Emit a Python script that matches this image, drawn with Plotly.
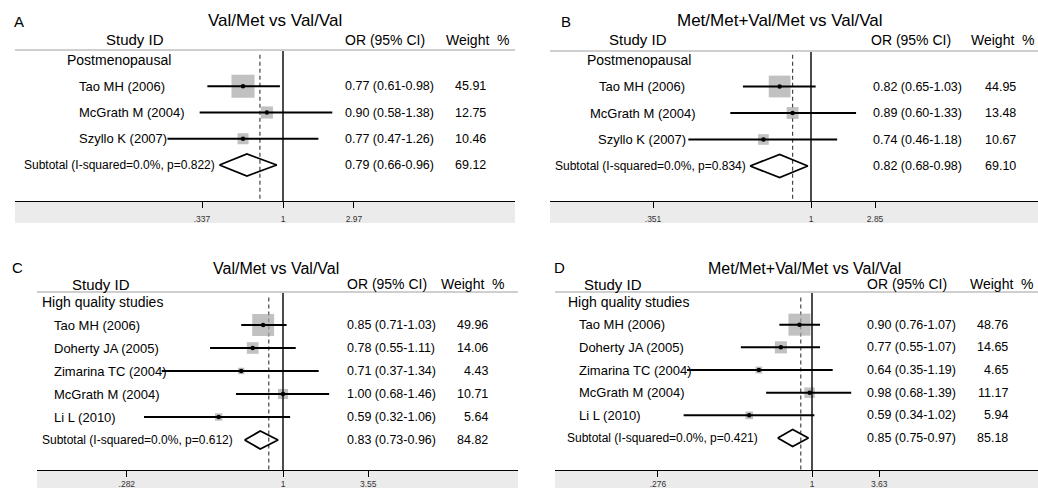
import math
import plotly.graph_objects as go

# ---------------- data ----------------
panel_letters = ["A", "B", "C", "D"]
panel_titles = ["Val/Met vs Val/Val", "Met/Met+Val/Met vs Val/Val",
                "Val/Met vs Val/Val", "Met/Met+Val/Met vs Val/Val"]
group_labels = ["Postmenopausal", "Postmenopausal",
                "High quality studies", "High quality studies"]

studies_post = ["Tao MH (2006)", "McGrath M (2004)", "Szyllo K (2007)"]
studies_hq = ["Tao MH (2006)", "Doherty JA (2005)", "Zimarina TC (2004)",
              "McGrath M (2004)", "Li L (2010)"]

or_A = [0.77, 0.90, 0.77]
lo_A = [0.61, 0.58, 0.47]
hi_A = [0.98, 1.38, 1.26]
wt_A = [45.91, 12.75, 10.46]

or_B = [0.82, 0.89, 0.74]
lo_B = [0.65, 0.60, 0.46]
hi_B = [1.03, 1.33, 1.18]
wt_B = [44.95, 13.48, 10.67]

or_C = [0.85, 0.78, 0.71, 1.00, 0.59]
lo_C = [0.71, 0.55, 0.37, 0.68, 0.32]
hi_C = [1.03, 1.11, 1.34, 1.46, 1.06]
wt_C = [49.96, 14.06, 4.43, 10.71, 5.64]

or_D = [0.90, 0.77, 0.64, 0.98, 0.59]
lo_D = [0.76, 0.55, 0.35, 0.68, 0.34]
hi_D = [1.07, 1.07, 1.19, 1.39, 1.02]
wt_D = [48.76, 14.65, 4.65, 11.17, 5.94]

subtotal_or = [0.79, 0.82, 0.83, 0.85]
subtotal_lo = [0.66, 0.68, 0.73, 0.75]
subtotal_hi = [0.96, 0.98, 0.96, 0.97]
subtotal_wt = [69.12, 69.10, 84.82, 85.18]
subtotal_i2 = [0.0, 0.0, 0.0, 0.0]
subtotal_p = [0.822, 0.834, 0.612, 0.421]
overall_or = [0.86, 0.89, 0.89, 0.91]

tick_labels = [[".337", "1", "2.97"], [".351", "1", "2.85"],
               [".282", "1", "3.55"], [".276", "1", "3.63"]]

panels = [
    (studies_post, or_A, lo_A, hi_A, wt_A),
    (studies_post, or_B, lo_B, hi_B, wt_B),
    (studies_hq, or_C, lo_C, hi_C, wt_C),
    (studies_hq, or_D, lo_D, hi_D, wt_D),
]

# ---------------- layout geometry (pixels) ----------------
W, H = 1038, 488
FONT = "Liberation Sans, Arial, sans-serif"
tick_positions = [[0.589, 1, 1.59], [0.368, 1, 1.50], [0.278, 1, 2.01], [0.274, 1, 1.76]]

geo = [
    dict(x0=15, x1=515, c1=283, s=153, top=50, axis=201, band=223, row0=60, dy=26.25,
         letter=(19, 21), title=(275, 20), title_size=17, hdr_y=40, sid_x=135, or_hdr_x=385,
         wt_hdr_x=512, grp_x=65, study_x=77, study_anchor="left", sub_x=22, or_x=343, wt_x=488,
         box_k=3.4, dia_h=11, standoff=4),
    dict(x0=550, x1=1038, c1=811, s=158, top=51, axis=201, band=223, row0=60, dy=26.5,
         letter=(566, 21), title=(780, 20), title_size=17, hdr_y=40, sid_x=638, or_hdr_x=911,
         wt_hdr_x=1037, grp_x=585, study_x=642, study_anchor="center", sub_x=553, or_x=871,
         wt_x=1018, box_k=3.25, dia_h=11.5, standoff=4),
    dict(x0=37, x1=518, c1=283, s=122, top=292, axis=470, band=500, row0=302, dy=23,
         letter=(17, 267), title=(276, 268), title_size=16, hdr_y=284, sid_x=101, or_hdr_x=387,
         wt_hdr_x=507, grp_x=40, study_x=52, study_anchor="left", sub_x=40, or_x=345, wt_x=490,
         box_k=3.1, dia_h=9, standoff=0),
    dict(x0=555, x1=1038, c1=812, s=119, top=292, axis=470, band=500, row0=302, dy=22.67,
         letter=(559, 267), title=(804, 268), title_size=16, hdr_y=284, sid_x=613, or_hdr_x=907,
         wt_hdr_x=1036, grp_x=566, study_x=577, study_anchor="left", sub_x=565, or_x=865,
         wt_x=1010, box_k=3.15, dia_h=8.5, standoff=0),
]


def px(x):
    return x / W


def py(y):
    return 1 - y / H


fig = go.Figure()
layout = dict(width=W, height=H, margin=dict(l=0, r=0, t=0, b=0),
              paper_bgcolor="white", plot_bgcolor="white", showlegend=False,
              font=dict(family=FONT, color="black"))
shapes = []
annotations = []

for i, (names, ors, los, his, wts) in enumerate(panels):
    g = geo[i]
    sfx = "" if i == 0 else str(i + 1)
    xa, ya = "x" + sfx, "y" + sfx
    n = len(names)
    rows = list(range(1, n + 1))
    sub_row = n + 1
    bottom_row = (g["axis"] - g["row0"]) / g["dy"]
    top_row = (g["top"] - g["row0"]) / g["dy"]
    ln10 = math.log(10)
    xr = [(g["x0"] - g["c1"]) / (g["s"] * ln10), (g["x1"] - g["c1"]) / (g["s"] * ln10)]

    layout["xaxis" + sfx] = dict(
        type="log", range=xr, domain=[px(g["x0"]), px(g["x1"])], anchor=ya,
        showgrid=False, zeroline=False, showline=True, linecolor="black", linewidth=1.3,
        ticks="outside", ticklen=6, tickwidth=1.3, tickcolor="black",
        tickvals=tick_positions[i], ticktext=tick_labels[i],
        tickfont=dict(size=8.5, color="#333333", family=FONT),
        ticklabelstandoff=g["standoff"], fixedrange=True)
    layout["yaxis" + sfx] = dict(
        range=[bottom_row, top_row], domain=[py(g["axis"]), py(g["top"])], anchor=xa,
        showgrid=False, zeroline=False, showline=False, showticklabels=False,
        ticks="", fixedrange=True)

    # overall (dashed) line
    fig.add_trace(go.Scatter(x=[overall_or[i], overall_or[i]], y=[-0.2, bottom_row],
                             mode="lines", line=dict(color="#444444", width=1.2, dash="4px,3px"),
                             xaxis=xa, yaxis=ya, hoverinfo="skip"))
    # weight boxes
    fig.add_trace(go.Scatter(x=ors, y=rows, mode="markers",
                             marker=dict(symbol="square", color="#a6a6a6",
                                         size=[g["box_k"] * math.sqrt(w) for w in wts],
                                         line=dict(width=0)),
                             xaxis=xa, yaxis=ya, hoverinfo="skip"))
    # confidence intervals
    cx, cy = [], []
    for r, lo, hi in zip(rows, los, his):
        cx += [lo, hi, None]
        cy += [r, r, None]
    fig.add_trace(go.Scatter(x=cx, y=cy, mode="lines", line=dict(color="black", width=2),
                             xaxis=xa, yaxis=ya, hoverinfo="skip"))
    # point estimates
    fig.add_trace(go.Scatter(x=ors, y=rows, mode="markers",
                             marker=dict(symbol="circle", color="black", size=4.5),
                             xaxis=xa, yaxis=ya, hoverinfo="skip"))
    # subtotal diamond
    h = g["dia_h"] / g["dy"]
    fig.add_trace(go.Scatter(
        x=[subtotal_lo[i], subtotal_or[i], subtotal_hi[i], subtotal_or[i], subtotal_lo[i]],
        y=[sub_row, sub_row - h, sub_row, sub_row + h, sub_row],
        mode="lines", line=dict(color="black", width=1.8),
        xaxis=xa, yaxis=ya, hoverinfo="skip"))

    # reference line at OR = 1
    shapes.append(dict(type="line", xref=xa, yref=ya + " domain", x0=1, x1=1, y0=0, y1=1,
                       line=dict(color="black", width=1.4)))
    # header rule
    shapes.append(dict(type="line", xref="paper", yref="paper", x0=px(g["x0"]), x1=px(g["x1"]),
                       y0=py(g["top"]), y1=py(g["top"]), line=dict(color="#cfcfcf", width=2)))
    # grey band under the axis
    shapes.append(dict(type="rect", xref="paper", yref="paper", layer="below",
                       x0=px(g["x0"]), x1=px(g["x1"]), y0=py(g["band"]), y1=py(g["axis"]),
                       fillcolor="#ebebeb", line=dict(width=0)))

    # texts
    def ann(text, x, y, xanchor="left", size=13, yref="paper"):
        annotations.append(dict(text=text, x=x, y=y, xref="paper", yref=yref,
                                xanchor=xanchor, yanchor="middle", showarrow=False,
                                font=dict(size=size, family=FONT, color="black")))

    ann(panel_letters[i], px(g["letter"][0]), py(g["letter"][1]), "center", 15)
    ann(panel_titles[i], px(g["title"][0]), py(g["title"][1]), "center", g["title_size"])
    ann("Study ID", px(g["sid_x"]), py(g["hdr_y"]), "center", 15)
    ann("OR (95% CI)", px(g["or_hdr_x"]), py(g["hdr_y"]), "center", 14)
    ann("Weight  %", px(g["wt_hdr_x"]), py(g["hdr_y"]), "right", 14)
    ann(group_labels[i], px(g["grp_x"]), 0, "left", 14, ya)
    for r, name, o, lo, hi, w in zip(rows, names, ors, los, his, wts):
        ann(name, px(g["study_x"]), r, g["study_anchor"], 13, ya)
        ann(f"{o:.2f} ({lo:.2f}-{hi:.2f})", px(g["or_x"]), r, "left", 12.5, ya)
        ann(f"{w:.2f}", px(g["wt_x"]), r, "right", 12.5, ya)
    ann(f"Subtotal (I-squared={subtotal_i2[i]:.1f}%, p={subtotal_p[i]:.3f})",
        px(g["sub_x"]), sub_row, "left", 12, ya)
    ann(f"{subtotal_or[i]:.2f} ({subtotal_lo[i]:.2f}-{subtotal_hi[i]:.2f})",
        px(g["or_x"]), sub_row, "left", 12.5, ya)
    ann(f"{subtotal_wt[i]:.2f}", px(g["wt_x"]), sub_row, "right", 12.5, ya)

layout["shapes"] = shapes
layout["annotations"] = annotations
fig.update_layout(**layout)
fig.write_html("out.html", config={"displayModeBar": False},
               post_script="document.body.style.margin='0';document.body.style.overflow='hidden';")
